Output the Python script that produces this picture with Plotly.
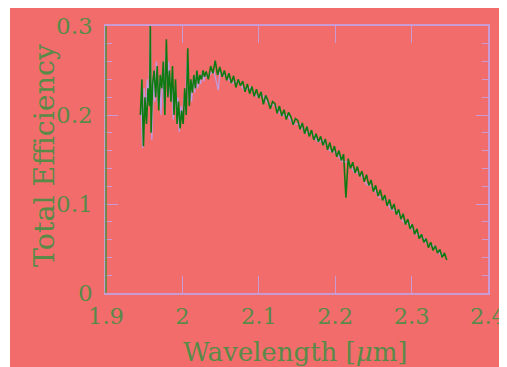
import plotly.graph_objects as go

# ---------------- data ----------------
wl_green = [
    1.945, 1.947, 1.949, 1.951, 1.953, 1.955, 1.957, 1.958, 1.959, 1.961,
    1.963, 1.965, 1.967, 1.969, 1.971, 1.973, 1.975, 1.977, 1.979, 1.981,
    1.983, 1.985, 1.987, 1.989, 1.991, 1.993, 1.995, 1.997, 1.999, 2.001,
    2.003, 2.005, 2.007, 2.009, 2.011, 2.013, 2.015, 2.017, 2.019, 2.021,
    2.023, 2.025, 2.027, 2.029,
    2.031, 2.034, 2.037, 2.040, 2.043, 2.046, 2.049, 2.052, 2.055, 2.058,
    2.061, 2.064, 2.067, 2.070, 2.073, 2.076, 2.079, 2.082, 2.085, 2.088,
    2.091, 2.094, 2.097, 2.100, 2.103, 2.106, 2.109, 2.112, 2.115, 2.118,
    2.121, 2.124, 2.127, 2.130, 2.133, 2.136, 2.139, 2.142, 2.145, 2.148,
    2.151, 2.154, 2.157, 2.160, 2.163, 2.166, 2.169, 2.172, 2.175, 2.178,
    2.181, 2.184, 2.187, 2.190, 2.193, 2.196, 2.199, 2.202, 2.205, 2.208,
    2.211, 2.214, 2.217, 2.220, 2.223, 2.226, 2.229, 2.232, 2.235, 2.238,
    2.241, 2.244, 2.247, 2.250, 2.253, 2.256, 2.259, 2.262, 2.265, 2.268,
    2.271, 2.274, 2.277, 2.280, 2.283, 2.286, 2.289, 2.292, 2.295, 2.298,
    2.301, 2.304, 2.307, 2.310, 2.313, 2.316, 2.319, 2.322, 2.325, 2.328,
    2.331, 2.334, 2.337, 2.340, 2.343, 2.346,
]
eff_green = [
    0.200, 0.240, 0.165, 0.220, 0.190, 0.230, 0.210, 0.300, 0.180, 0.235,
    0.250, 0.220, 0.255, 0.205, 0.245, 0.230, 0.260, 0.200, 0.285, 0.220,
    0.250, 0.215, 0.255, 0.200, 0.240, 0.190, 0.215, 0.185, 0.205, 0.190,
    0.230, 0.200, 0.275, 0.210, 0.240, 0.225, 0.245, 0.230, 0.250, 0.235,
    0.245, 0.240, 0.250, 0.243,
    0.249, 0.240, 0.255, 0.247, 0.261, 0.245, 0.254, 0.243, 0.250, 0.239,
    0.247, 0.236, 0.244, 0.231, 0.240, 0.233, 0.238, 0.226, 0.235, 0.224,
    0.232, 0.221, 0.229, 0.219, 0.226, 0.212, 0.222, 0.216, 0.207, 0.215,
    0.213, 0.202, 0.210, 0.199, 0.206, 0.195, 0.203, 0.198, 0.189, 0.196,
    0.194, 0.184, 0.191, 0.179, 0.187, 0.176, 0.183, 0.172, 0.179, 0.170,
    0.176, 0.166, 0.173, 0.161, 0.169, 0.158, 0.165, 0.153, 0.160, 0.149,
    0.156, 0.107, 0.151, 0.140, 0.147, 0.135, 0.142, 0.131, 0.137, 0.125,
    0.133, 0.121, 0.127, 0.114, 0.121, 0.109, 0.116, 0.104, 0.110, 0.098,
    0.105, 0.094, 0.100, 0.088, 0.094, 0.083, 0.089, 0.077, 0.083, 0.072,
    0.077, 0.066, 0.072, 0.061, 0.066, 0.057, 0.061, 0.051, 0.057, 0.048,
    0.053, 0.045, 0.049, 0.040, 0.045, 0.037,
]

wl_violet = [
    1.946, 1.948, 1.950, 1.952, 1.954, 1.956, 1.958, 1.960, 1.962, 1.964,
    1.966, 1.968, 1.970, 1.972, 1.974, 1.976, 1.978, 1.980, 1.982, 1.984,
    1.986, 1.988, 1.990, 1.992, 1.994, 1.996, 1.998, 2.000, 2.002, 2.004,
    2.006, 2.008, 2.010, 2.012, 2.014, 2.016, 2.018, 2.020, 2.022, 2.024,
    2.026, 2.028, 2.030,
    2.033, 2.041, 2.047, 2.049, 2.057, 2.065, 2.073, 2.081, 2.089, 2.097,
    2.105, 2.113, 2.121, 2.129, 2.137, 2.145, 2.153, 2.161, 2.169, 2.177,
    2.185, 2.193, 2.201, 2.209, 2.217, 2.225, 2.233, 2.241, 2.249, 2.257,
    2.265, 2.273, 2.281, 2.289, 2.297, 2.305, 2.313, 2.321, 2.329, 2.337,
    2.345,
]
eff_violet = [
    0.210, 0.163, 0.230, 0.200, 0.240, 0.215, 0.300, 0.172, 0.240, 0.215,
    0.260, 0.210, 0.240, 0.200, 0.250, 0.210, 0.270, 0.235, 0.260, 0.220,
    0.245, 0.195, 0.230, 0.205, 0.220, 0.181, 0.210, 0.195, 0.220, 0.205,
    0.260, 0.215, 0.235, 0.215, 0.240, 0.225, 0.245, 0.230, 0.240, 0.235,
    0.248, 0.238, 0.245,
    0.243, 0.250, 0.228, 0.248, 0.243, 0.236, 0.238, 0.228, 0.231, 0.221,
    0.222, 0.212, 0.211, 0.200, 0.200, 0.190, 0.190, 0.180, 0.181, 0.170,
    0.171, 0.160, 0.158, 0.148, 0.147, 0.136, 0.134, 0.122, 0.120, 0.108,
    0.106, 0.094, 0.092, 0.080, 0.078, 0.066, 0.065, 0.054, 0.053, 0.044,
    0.042,
]

x_ticks = [1.9, 2.0, 2.1, 2.2, 2.3, 2.4]
x_labels = ["1.9", "2", "2.1", "2.2", "2.3", "2.4"]
y_ticks = [0, 0.1, 0.2, 0.3]
y_labels = ["0", "0.1", "0.2", "0.3"]
x_title = "Wavelength [<i>μ</i>m]"
y_title = "Total Efficiency"

# ---------------- styling ----------------
BG = "#f36c6c"
LAV = "#c99bd2"
GREEN = "#0f7a12"
TXT = "#5a8a48"
FONT = "DejaVu Serif, Liberation Serif, serif"

W, H = 507, 367
ML, MR, MT, MB = 98, 27, 18, 82
PW, PH = W - ML - MR, H - MT - MB


def px_x(p):  # figure pixel -> paper x
    return (p - ML) / PW


def px_y(p):  # figure pixel -> paper y
    return (H - MB - p) / PH


fig = go.Figure()
fig.add_trace(go.Scatter(x=wl_violet, y=eff_violet, mode="lines",
                         line=dict(color="#bf9ae0", width=1.3), hoverinfo="skip"))
fig.add_trace(go.Scatter(x=wl_green, y=eff_green, mode="lines",
                         line=dict(color=GREEN, width=1.6), hoverinfo="skip"))

fig.update_layout(
    width=W, height=H,
    paper_bgcolor="white", plot_bgcolor=BG,
    showlegend=False,
    margin=dict(l=ML, r=MR, t=MT, b=MB),
    font=dict(family=FONT, color=TXT, size=23),
)
# salmon page background (leaves a thin white strip on the left, as in the reference)
fig.add_shape(type="rect", xref="paper", yref="paper",
              x0=px_x(2), x1=1.5, y0=-0.6, y1=1.3,
              fillcolor=BG, line=dict(width=0), layer="below")

fig.update_xaxes(
    range=[1.9, 2.4], tickvals=x_ticks, ticktext=x_labels,
    ticks="inside", ticklen=17, tickwidth=1, tickcolor=LAV,
    showline=True, linecolor=LAV, linewidth=1.5, mirror="ticks",
    showgrid=False, zeroline=False, ticklabelstandoff=2, automargin=False,
    tickfont=dict(size=22.5, color=TXT),
)
fig.update_yaxes(
    range=[0, 0.3], tickvals=y_ticks, ticktext=y_labels,
    ticks="inside", ticklen=12, tickwidth=1, tickcolor=LAV,
    minor=dict(dtick=0.02, ticks="inside", ticklen=6, tickcolor=LAV, tickwidth=1),
    showline=True, linecolor=LAV, linewidth=1.5, mirror="ticks",
    showgrid=False, zeroline=False, ticklabelstandoff=7, automargin=False,
    tickfont=dict(size=23, color=TXT),
)
# axis titles placed as annotations for exact positioning
fig.add_annotation(text=x_title, xref="paper", yref="paper",
                   x=px_x(287), y=px_y(344), xanchor="center", yanchor="middle",
                   showarrow=False, font=dict(size=26, color=TXT, family=FONT))
fig.add_annotation(text=y_title, xref="paper", yref="paper", textangle=-90,
                   x=px_x(36), y=px_y(147), xanchor="center", yanchor="middle",
                   showarrow=False, font=dict(size=28.5, color=TXT, family=FONT))
# left frame edge is drawn in green in the reference
fig.add_shape(type="line", xref="paper", yref="paper", x0=0, x1=0, y0=0, y1=1,
              line=dict(color="#4f8a30", width=1.5), layer="above")

fig.write_html("out.html")
